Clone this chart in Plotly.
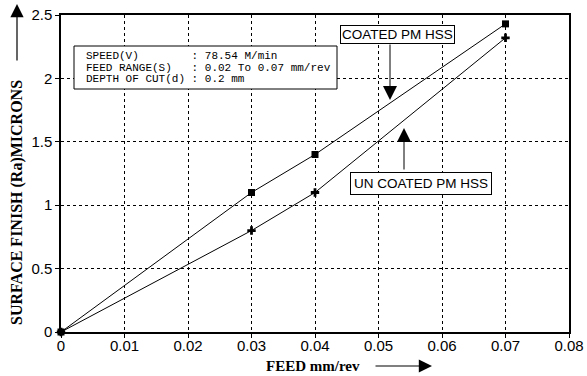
import plotly.graph_objects as go

feed = [0, 0.03, 0.04, 0.07]
coated = [0, 1.1, 1.4, 2.43]
uncoated = [0, 0.8, 1.1, 2.32]
x_ticks = [0, 0.01, 0.02, 0.03, 0.04, 0.05, 0.06, 0.07, 0.08]
y_ticks = [0, 0.5, 1, 1.5, 2, 2.5]
info_labels = ["SPEED(V)", "FEED RANGE(S)", "DEPTH OF CUT(d)"]
info_values = ["78.54 M/min", "0.02 To 0.07 mm/rev", "0.2 mm"]

W, H = 587, 376
L, R, T, B = 61, 18, 15, 44
pw, ph = W - L - R, H - T - B

def px(x):  # pixel x -> paper
    return (x - L) / pw

def py(y):  # pixel y -> paper
    return (H - B - y) / ph

fig = go.Figure()
fig.add_trace(go.Scatter(x=feed, y=coated, mode="lines+markers",
                         line=dict(color="black", width=1),
                         marker=dict(symbol="square", size=7, color="black"),
                         cliponaxis=False, showlegend=False))
fig.add_trace(go.Scatter(x=feed, y=uncoated, mode="lines+markers",
                         line=dict(color="black", width=1),
                         marker=dict(symbol="cross", size=7, color="black"),
                         cliponaxis=False, showlegend=False))

axis_common = dict(showline=True, linecolor="black", linewidth=1.5, mirror=True,
                   showgrid=True, gridcolor="black", griddash="dot", gridwidth=1,
                   ticks="outside", ticklen=4, tickcolor="black", zeroline=False,
                   automargin=False,
                   tickfont=dict(family="Liberation Sans, Arial", size=15, color="black"))
fig.update_xaxes(range=[0, 0.08], tickvals=x_ticks, ticktext=[f"{v:g}" for v in x_ticks],
                 ticklabelstandoff=-5, **axis_common)
fig.update_yaxes(range=[0, 2.5], tickvals=y_ticks, ticktext=[f"{v:g}" for v in y_ticks], **axis_common)

anns = []
# axis titles
anns.append(dict(xref="paper", yref="paper", x=px(17), y=py(203), xanchor="center", yanchor="middle",
                 text="<b>SURFACE FINISH (Ra)MICRONS</b>", textangle=-90, showarrow=False,
                 font=dict(family="Liberation Serif, Times New Roman", size=16, color="black")))
anns.append(dict(xref="paper", yref="paper", x=px(17), y=py(4), ax=0, ay=58, text="",
                 showarrow=True, arrowhead=2, arrowsize=2.2, arrowwidth=1.2, arrowcolor="black"))
anns.append(dict(xref="paper", yref="paper", x=px(313), y=py(366), xanchor="center", yanchor="middle",
                 text="<b>FEED mm/rev</b>", showarrow=False,
                 font=dict(family="Liberation Serif, Times New Roman", size=15, color="black")))
anns.append(dict(xref="paper", yref="paper", x=px(432), y=py(366), ax=-58, ay=0, text="",
                 showarrow=True, arrowhead=2, arrowsize=2.2, arrowwidth=1.2, arrowcolor="black"))
# info lines
for i, (lab, val) in enumerate(zip(info_labels, info_values)):
    line = f"{lab:<16}: {val}"
    anns.append(dict(xref="paper", yref="paper", x=px(84), y=py(56 + i * 11.5),
                     xanchor="left", yanchor="middle",
                     text=line.replace(" ", "\u00a0"), showarrow=False,
                     font=dict(family="Liberation Mono, monospace", size=11, color="black")))
# series labels
lab_font = dict(family="Liberation Sans, Arial", size=13.5, color="black")
anns.append(dict(xref="paper", yref="paper", x=px(397.5), y=py(34.5), xanchor="center", yanchor="middle",
                 text="COATED PM HSS", showarrow=False, bordercolor="black", borderwidth=1,
                 borderpad=1, bgcolor="white", font=lab_font))
anns.append(dict(xref="x", yref="y", x=(390 - L) / pw * 0.08, y=(H - B - 100) / ph * 2.5,
                 ax=0, ay=-57, text="", showarrow=True, arrowhead=2, arrowsize=2.8,
                 arrowwidth=1, arrowcolor="black"))
anns.append(dict(xref="paper", yref="paper", x=px(420.5), y=py(183), xanchor="center", yanchor="middle",
                 text="UN COATED PM HSS", showarrow=False, bordercolor="black", borderwidth=1,
                 borderpad=3, bgcolor="white", font=lab_font))
anns.append(dict(xref="x", yref="y", x=(404 - L) / pw * 0.08, y=(H - B - 128) / ph * 2.5,
                 ax=0, ay=43, text="", showarrow=True, arrowhead=2, arrowsize=2.8,
                 arrowwidth=1, arrowcolor="black"))

shapes = [dict(type="rect", xref="paper", yref="paper", x0=px(74), x1=px(337), y0=py(89), y1=py(46),
               line=dict(color="black", width=1), fillcolor="white", layer="above")]

fig.update_layout(width=W, height=H, margin=dict(l=L, r=R, t=T, b=B),
                  plot_bgcolor="white", paper_bgcolor="white",
                  annotations=anns, shapes=shapes)
fig.write_html("out.html")
